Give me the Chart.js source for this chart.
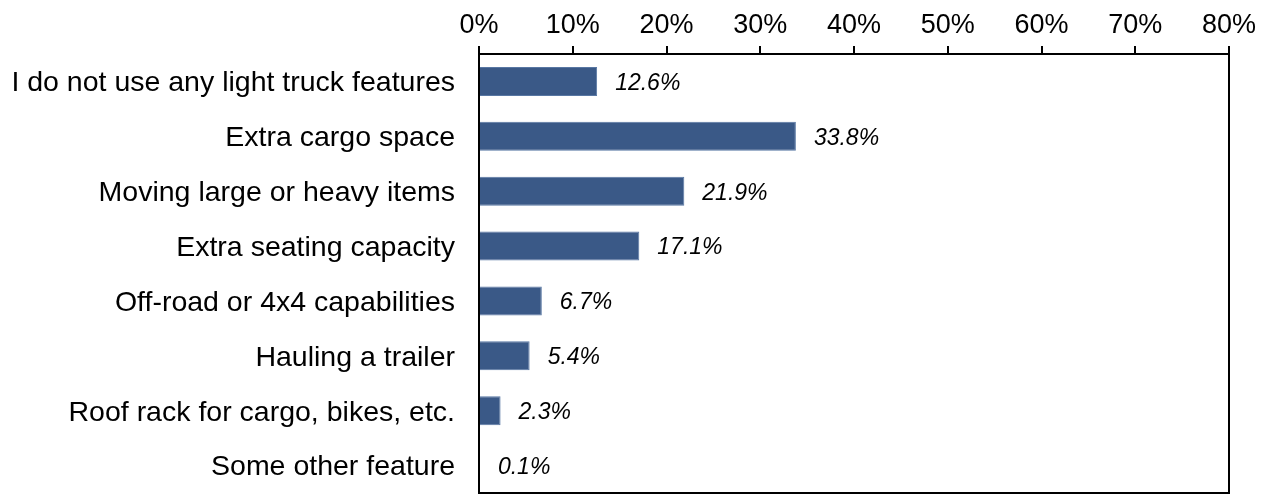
<!DOCTYPE html>
<html>
<head>
<meta charset="utf-8">
<script src="https://cdn.jsdelivr.net/npm/chart.js@4"></script>
<style>
  html, body { margin:0; padding:0; background:#fff; overflow:hidden; }
  canvas { display:block; }
</style>
</head>
<body>
<canvas id="featChart" width="1267" height="495"></canvas>
<script>
const categories = [
  "I do not use any light truck features",
  "Extra cargo space",
  "Moving large or heavy items",
  "Extra seating capacity",
  "Off-road or 4x4 capabilities",
  "Hauling a trailer",
  "Roof rack for cargo, bikes, etc.",
  "Some other feature"
];
const shares = [12.6, 33.8, 21.9, 17.1, 6.7, 5.4, 2.3, 0.1];
const tickValues = [0, 10, 20, 30, 40, 50, 60, 70, 80];

const FONT = "'Liberation Sans', Arial, sans-serif";

// frame around the plot area
const boxPlugin = {
  id: "box",
  afterDraw(chart){
    const a = chart.chartArea, ctx = chart.ctx;
    ctx.save();
    ctx.strokeStyle = "#000";
    ctx.lineWidth = 2;
    ctx.strokeRect(a.left, a.top, a.right - a.left, a.bottom - a.top);
    ctx.restore();
  }
};

// italic percentage next to each bar
const valuePlugin = {
  id: "values",
  afterDatasetsDraw(chart){
    const ctx = chart.ctx;
    const meta = chart.getDatasetMeta(0);
    ctx.save();
    ctx.font = "italic 23px " + FONT;
    ctx.fillStyle = "#000";
    ctx.textAlign = "left";
    ctx.textBaseline = "middle";
    meta.data.forEach((bar, i)=>{
      ctx.fillText(shares[i].toFixed(1) + "%", bar.x + 18, bar.y + 2);
    });
    ctx.restore();
  }
};

new Chart(document.getElementById("featChart"), {
  type: "bar",
  data: {
    labels: categories,
    datasets: [{
      data: shares,
      backgroundColor: "#3a5987",
      borderColor: "#5877a3",
      borderWidth: 1,
      barPercentage: 0.53,
      categoryPercentage: 1
    }]
  },
  options: {
    indexAxis: "y",
    responsive: false,
    animation: false,
    layout: { padding: { top: 0, right: 38, bottom: 2, left: 0 } },
    plugins: { legend: { display: false }, tooltip: { enabled: false } },
    scales: {
      x: {
        position: "top",
        min: 0, max: 80,
        afterBuildTicks(axis){ axis.ticks = tickValues.map(v => ({ value: v })); },
        afterFit(axis){ axis.height = 54; },
        grid: { drawOnChartArea: false, tickLength: 8, color: "#000", lineWidth: 2 },
        border: { display: false },
        ticks: {
          padding: 4,
          color: "#000",
          font: { family: FONT, size: 27 },
          callback: v => v + "%",
          maxRotation: 0
        }
      },
      y: {
        // fixed label column; long labels would otherwise pad the plot height
        afterFit(axis){
          axis.width = 479;
          axis.paddingTop = 0;
          axis.paddingBottom = 0;
        },
        grid: { display: false },
        border: { display: false },
        ticks: {
          padding: 16,
          labelOffset: 2,
          color: "#000",
          font: { family: FONT, size: 28.5 }
        }
      }
    }
  },
  plugins: [boxPlugin, valuePlugin]
});
</script>
</body>
</html>
